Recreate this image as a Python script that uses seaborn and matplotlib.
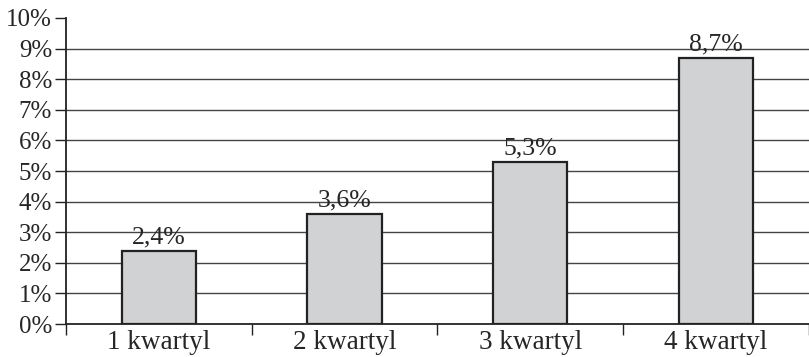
import matplotlib
matplotlib.use("Agg")
import matplotlib.pyplot as plt
import seaborn as sns
import pandas as pd

categories = ["1 kwartyl", "2 kwartyl", "3 kwartyl", "4 kwartyl"]
values = [2.4, 3.6, 5.3, 8.7]
value_labels = ["2,4%", "3,6%", "5,3%", "8,7%"]
y_ticks = list(range(0, 11))
y_tick_labels = [f"{v}%" for v in y_ticks]

sns.set_style("white")
plt.rcParams["font.family"] = ["Liberation Serif", "DejaVu Serif"]

df = pd.DataFrame({"kwartyl": categories, "udzial": values})

fig = plt.figure(figsize=(8.09, 3.57), dpi=100)
ax = fig.add_axes([0.0816, 0.0924, 0.918, 0.8572])

sns.barplot(data=df, x="kwartyl", y="udzial", ax=ax, color="#d1d2d4",
            saturation=1, width=0.4, edgecolor="#222222", linewidth=1.6, zorder=3)

ax.set_xlim(-0.5, len(categories) - 0.5)
ax.set_ylim(0, 10)

# horizontal rules at 1%..9%
for v in y_ticks[1:-1]:
    ax.axhline(v, color="#444444", linewidth=1.0, zorder=1)

ax.set_yticks(y_ticks)
ax.set_yticklabels(y_tick_labels, fontsize=18)

# category boundaries carry the tick marks; names sit between them
ax.set_xticks([i - 0.5 for i in range(len(categories) + 1)])
ax.set_xticklabels([])
ax.set_xticks(range(len(categories)), minor=True)
ax.set_xticklabels(categories, minor=True, fontsize=19.5)
ax.tick_params(axis="x", which="minor", bottom=True, length=0, pad=4)
ax.tick_params(axis="x", which="major", bottom=True, direction="out",
               length=8, width=1, color="#222222")
ax.tick_params(axis="y", left=True, direction="out", length=8, width=1,
               color="#222222", pad=2)

for s in ["top", "right"]:
    ax.spines[s].set_visible(False)
for s in ["left", "bottom"]:
    ax.spines[s].set_color("#222222")
    ax.spines[s].set_linewidth(1.3)

ax.set_xlabel("")
ax.set_ylabel("")

for i, (v, lab) in enumerate(zip(values, value_labels)):
    ax.text(i, v + 0.08, lab, ha="center", va="bottom", fontsize=18.5, zorder=4)

fig.savefig("out.png", dpi=100)
